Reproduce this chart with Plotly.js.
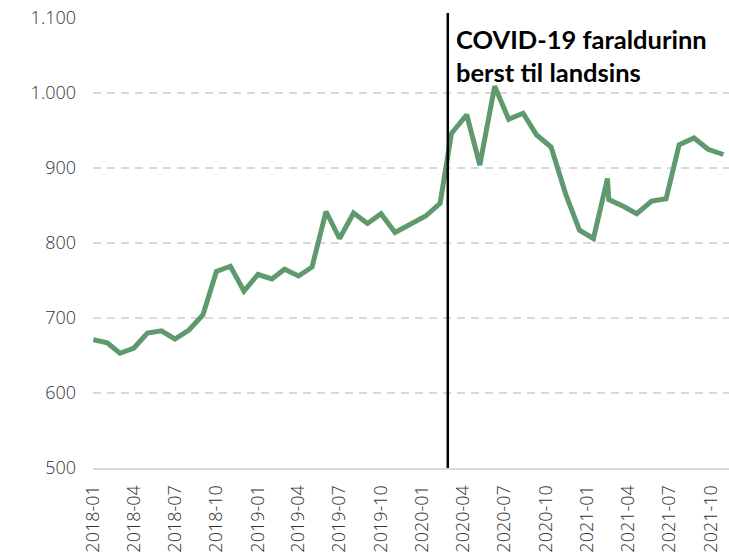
<!DOCTYPE html>
<html>
<head>
<meta charset="utf-8">
<script src="https://cdn.plot.ly/plotly-3.0.1.min.js"></script>
<style>
  html, body { margin: 0; padding: 0; background: #fff; }
  #chart { width: 729px; height: 556px; }
</style>
</head>
<body>
<div id="chart"></div>
<script>
const dates = [
  "2018-01-01", "2018-02-01", "2018-03-01", "2018-04-01", "2018-05-01", "2018-06-01",
  "2018-07-01", "2018-08-01", "2018-09-01", "2018-10-01", "2018-11-01", "2018-12-01",
  "2019-01-01", "2019-02-01", "2019-03-01", "2019-04-01", "2019-05-01", "2019-06-01",
  "2019-07-01", "2019-08-01", "2019-09-01", "2019-10-01", "2019-11-01", "2019-12-01",
  "2020-01-08", "2020-02-09", "2020-03-05", "2020-04-08", "2020-05-07", "2020-06-09",
  "2020-07-10", "2020-08-11", "2020-09-10", "2020-10-12", "2020-11-14", "2020-12-14",
  "2021-01-14", "2021-02-14", "2021-02-17", "2021-03-21", "2021-04-20", "2021-05-23",
  "2021-06-24", "2021-07-23", "2021-08-25", "2021-09-25", "2021-10-29"
];

const values = [
  671, 667, 653, 660, 680, 683,
  672, 684, 704, 762, 769, 736,
  758, 752, 765, 756, 768, 842,
  806, 840, 826, 839, 814, 823,
  836, 853, 946, 971, 904, 1009,
  965, 973, 944, 928, 864, 817,
  806, 886, 858, 849, 839, 856,
  859, 931, 940, 925, 918
];

const covidDate = "2020-02-26";
const covidLabel = "COVID-19 faraldurinn<br>berst til landsins";

const trace = {
  x: dates,
  y: values,
  type: "scatter",
  mode: "lines",
  line: { color: "#5f9a6e", width: 5 },
  hoverinfo: "skip",
};

const layout = {
  width: 729,
  height: 556,
  margin: { l: 93, r: 0, t: 18, b: 88 },
  paper_bgcolor: "#fff",
  plot_bgcolor: "#fff",
  showlegend: false,
  separators: ",.",
  xaxis: {
    type: "date",
    range: ["2017-12-31 08:00", "2021-11-10 12:00"],
    tick0: "2018-01-01",
    dtick: "M3",
    tickformat: "%Y-%m",
    tickangle: -90,
    showgrid: false,
    zeroline: false,
    showline: true,
    linecolor: "#d9d9d9",
    linewidth: 2,
    ticks: "",
    ticklabelstandoff: 8,
    tickfont: { family: "Open Sans", size: 18, color: "#333", weight: 300 },
  },
  yaxis: {
    range: [500, 1100],
    dtick: 100,
    separatethousands: true,
    showgrid: true,
    gridcolor: "#d9d9d9",
    gridwidth: 2,
    griddash: "8px,6px",
    zeroline: false,
    ticks: "",
    ticklabelstandoff: 16,
    tickfont: { family: "Open Sans", size: 18, color: "#333", weight: 300 },
  },
  shapes: [
    {
      type: "line",
      xref: "x",
      yref: "paper",
      x0: covidDate,
      x1: covidDate,
      y0: 0,
      y1: 1.011,
      line: { color: "#000", width: 2.5 },
    },
  ],
  annotations: [
    {
      xref: "paper",
      yref: "paper",
      x: 0.568,
      y: 0.992,
      xanchor: "left",
      yanchor: "top",
      align: "left",
      showarrow: false,
      text: "<b>" + covidLabel + "</b>",
      font: { family: "Lato", size: 25.5, color: "#000", weight: 900 },
    },
  ],
};

Plotly.newPlot("chart", [trace], layout, { displayModeBar: false, staticPlot: true });
</script>
</body>
</html>
